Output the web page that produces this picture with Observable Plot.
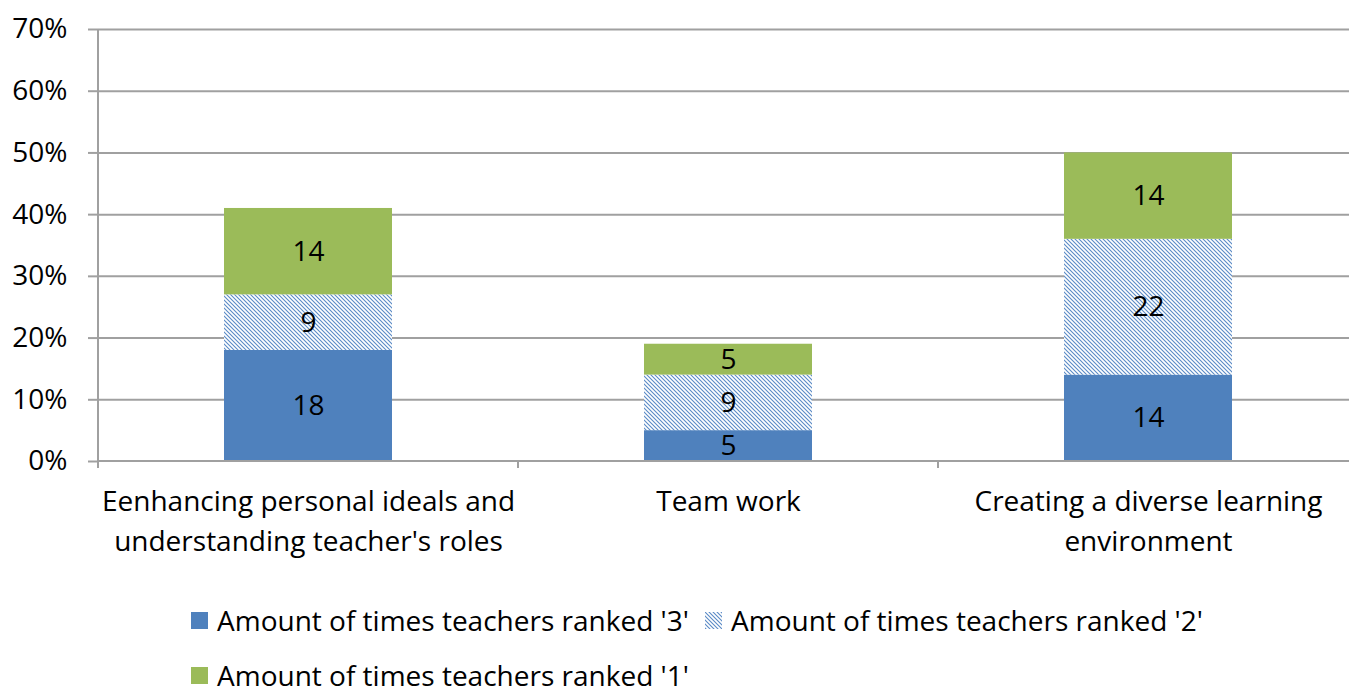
<!DOCTYPE html>
<html><head><meta charset="utf-8">
<script src="https://cdn.jsdelivr.net/npm/d3@7"></script>
<script src="https://cdn.jsdelivr.net/npm/@observablehq/plot@0.6"></script>
<style>
body{margin:0;background:#fff;font-family:"Open Sans",sans-serif;overflow:hidden;}
#chart svg{display:block;overflow:visible;}
#legend{position:relative;height:110px;}
.item{position:absolute;display:flex;align-items:center;font-size:28px;color:#000;white-space:nowrap;line-height:1;}
.sw{width:17px;height:17px;margin-right:9px;display:block;}
</style></head><body><div id="chart"></div><div id="legend"></div>
<script>
const categories = ["Eenhancing personal ideals and\nunderstanding teacher's roles", "Team work", "Creating a diverse learning\nenvironment"];
const series = ["Amount of times teachers ranked '3'", "Amount of times teachers ranked '2'", "Amount of times teachers ranked '1'"];
const rank3 = [18, 5, 14];
const rank2 = [9, 9, 22];
const rank1 = [14, 5, 14];
const yTicks = [0, 10, 20, 30, 40, 50, 60, 70];
const seriesFills = ["#4F81BD", "url(#hatch)", "#9BBB59"];

const valuesBySeries = [rank3, rank2, rank1];
const data = [];
categories.forEach((c, i) => series.forEach((s, j) => data.push({cat: c, series: s, value: valuesBySeries[j][i]})));

const W = 1349, H = 590;
const axisColor = "#a0a0a0";
const FS = 28;

function frameMark(index, scales, values, dims) {
  const x = scales.x, y = scales.y;
  const bw = x.bandwidth();
  const step = x(categories[1]) - x(categories[0]);
  const gap = step - bw;
  const g = d3.create("svg:g").attr("stroke", axisColor).attr("stroke-width", 2);
  const x0 = x(categories[0]) - gap / 2;
  const y0 = y(0);
  g.append("line").attr("x1", x0).attr("x2", dims.width).attr("y1", y0).attr("y2", y0);
  g.append("line").attr("x1", x0).attr("x2", x0).attr("y1", y(yTicks[yTicks.length - 1])).attr("y2", y0 + 7);
  for (let i = 0; i <= categories.length; i++) {
    const bx = x0 + i * step;
    g.append("line").attr("x1", bx).attr("x2", bx).attr("y1", y0).attr("y2", y0 + 7);
  }
  return g.node();
}

const plot = Plot.plot({
  width: W, height: H,
  marginLeft: 98, marginRight: 0, marginTop: 29, marginBottom: H - 461,
  style: {fontFamily: "'Open Sans', sans-serif", fontSize: FS + "px", color: "#000", background: "#fff"},
  x: {type: "band", domain: categories, range: [98, 1358], paddingInner: 0.6, paddingOuter: 0.3, label: null},
  y: {domain: [0, 70], label: null},
  color: {type: "ordinal", domain: series, range: seriesFills},
  marks: [
    Plot.ruleY(yTicks.slice(1), {stroke: axisColor, strokeWidth: 2}),
    Plot.barY(data, Plot.stackY({x: "cat", y: "value", fill: "series", order: series})),
    Plot.text(data, Plot.stackY({x: "cat", y: "value", z: "series", order: series, text: d => String(d.value), fill: "#000", fontSize: FS})),
    Plot.axisY({ticks: yTicks, tickFormat: d => d + "%", tickSize: 10, tickPadding: 21, stroke: axisColor, strokeWidth: 2, fontSize: FS, label: null}),
    Plot.axisX({tickSize: 0, tickPadding: 22, fontSize: FS, lineHeight: 1.4, label: null}),
    frameMark
  ]
});

const defs = document.createElementNS("http://www.w3.org/2000/svg", "defs");
defs.innerHTML = '<pattern id="hatch" patternUnits="userSpaceOnUse" width="4" height="4">' +
  '<rect width="4" height="4" fill="#fff"/>' +
  '<path d="M-1,-1L5,5M-1,3L1,5M3,-1L5,1" stroke="#5a8ac6" stroke-width="1.1"/></pattern>';
plot.insertBefore(defs, plot.firstChild);
document.getElementById("chart").appendChild(plot);

const legendPos = [[191, 30], [705, 30], [191, 85]];
const legend = document.getElementById("legend");
series.forEach((s, j) => {
  const item = document.createElement("div");
  item.className = "item";
  item.style.left = legendPos[j][0] + "px";
  item.style.top = (legendPos[j][1] - 14) + "px";
  item.innerHTML = `<svg class="sw" width="17" height="17"><rect width="17" height="17" fill="${seriesFills[j]}"/></svg><span></span>`;
  item.querySelector("span").textContent = s;
  legend.appendChild(item);
});
</script></body></html>
